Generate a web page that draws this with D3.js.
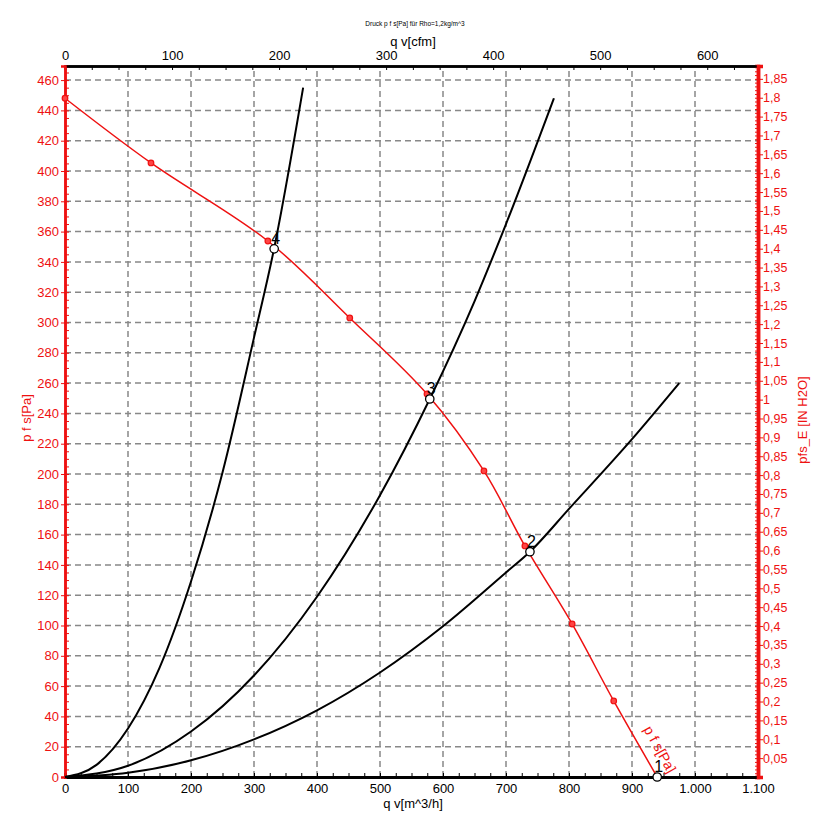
<!DOCTYPE html>
<html>
<head>
<meta charset="utf-8">
<script src="https://cdn.jsdelivr.net/npm/d3@7"></script>
<style>
  body { margin: 0; background: #fff; }
  text { font-family: "Liberation Sans", Arial, sans-serif; }
</style>
</head>
<body>
<div id="viz"></div>
<script>
// fan curve p f s [Pa] over q v [m^3/h]
const fanQ = [0, 136.5, 322, 452, 574.6, 665, 730, 805, 871, 940];
const fanP = [448, 405.3, 353.8, 303, 252.8, 202, 152.5, 101, 50.2, 0];

// system curves
const sys1Q = [0, 50, 100, 150, 200, 250, 300, 332, 378];
const sys1P = [0, 8, 32, 72, 129, 201, 290, 349, 455];
const sys2Q = [0, 100, 200, 300, 400, 500, 579, 650, 700, 776];
const sys2P = [0, 7.4, 30, 67, 119, 186, 249.5, 314, 365, 448];
const sys3Q = [0, 100, 200, 300, 400, 500, 600, 700, 738, 800, 900, 975];
const sys3P = [0, 2.8, 11, 24.8, 44, 69, 99.5, 135, 148.7, 177, 223, 260];

// operating points
const opNames = ["4", "3", "2", "1"];
const opQ = [332, 579, 738, 940];
const opP = [348.6, 249.5, 148.7, 0];

const xTicks = d3.range(0, 1101, 100);
const yTicks = d3.range(0, 461, 20);
const cfmTicks = d3.range(0, 601, 100);
const inTicks = d3.range(1, 38).map(i => i * 0.05);

const width = 819, height = 838;
const red = "#ee1111";
const PA_PER_IN = 249.09, M3H_PER_CFM = 1.699;

const x = d3.scaleLinear().domain([0, 1100]).range([65, 758]);
const y = d3.scaleLinear().domain([0, 469.3]).range([777, 66]);
const xTop = d3.scaleLinear().domain([0, 1100 / M3H_PER_CFM]).range([65, 758]);
const yRight = d3.scaleLinear().domain([0, 469.3 / PA_PER_IN]).range([777, 66]);

const svg = d3.select("#viz").append("svg")
  .attr("width", width)
  .attr("height", height);

// grid
const grid = svg.append("g")
  .attr("stroke", "#888")
  .attr("stroke-width", 1.5)
  .attr("stroke-dasharray", "6,4");
grid.selectAll(".vg").data(xTicks.slice(1, -1)).enter().append("line")
  .attr("x1", d => x(d)).attr("x2", d => x(d))
  .attr("y1", y.range()[0]).attr("y2", y.range()[1]);
grid.selectAll(".hg").data(yTicks.slice(1)).enter().append("line")
  .attr("x1", x.range()[0]).attr("x2", x.range()[1])
  .attr("y1", d => y(d)).attr("y2", d => y(d));

// axes
const fmtX = d3.formatLocale({ decimal: ",", thousands: ".", grouping: [3] }).format(",");
const fmtIn = v => d3.format(".2~f")(v).replace(".", ",");

function styleAxis(g, color, w) {
  g.select(".domain").attr("stroke", color).attr("stroke-width", w);
  g.selectAll(".tick line").attr("stroke", color);
  g.selectAll(".tick text").attr("fill", color);
  g.attr("font-family", null);
}

// minor ticks
svg.append("g").attr("transform", "translate(0,777)")
  .call(d3.axisBottom(x).tickValues(d3.range(0, 1101, 25)).tickSize(-4).tickFormat(""))
  .call(g => styleAxis(g, "#000", 3));
svg.append("g").attr("transform", "translate(0,66)")
  .call(d3.axisTop(xTop).tickValues(d3.range(0, 626, 25)).tickSize(-4).tickFormat(""))
  .call(g => styleAxis(g, "#000", 2.5));
svg.append("g").attr("transform", "translate(65,0)")
  .call(d3.axisLeft(y).tickValues(d3.range(0, 466, 5)).tickSize(-4).tickFormat(""))
  .call(g => styleAxis(g, red, 2.5));
svg.append("g").attr("transform", "translate(758,0)")
  .call(d3.axisRight(yRight).tickValues(d3.range(0, 188).map(i => i * 0.01)).tickSize(-3).tickFormat(""))
  .call(g => styleAxis(g, red, 3.5));

// major ticks with labels
svg.append("g").attr("transform", "translate(0,777)")
  .call(d3.axisBottom(x).tickValues(xTicks).tickSize(0).tickPadding(7).tickFormat(fmtX))
  .call(g => styleAxis(g, "#000", 3))
  .attr("font-size", 13);
svg.append("g").attr("transform", "translate(0,66)")
  .call(d3.axisTop(xTop).tickValues(cfmTicks).tickSize(0).tickPadding(6))
  .call(g => styleAxis(g, "#000", 2.5))
  .attr("font-size", 13);
svg.append("g").attr("transform", "translate(65,0)")
  .call(d3.axisLeft(y).tickValues(yTicks).tickSize(4).tickPadding(2))
  .call(g => styleAxis(g, red, 2.5))
  .attr("font-size", 13);
svg.append("g").attr("transform", "translate(758,0)")
  .call(d3.axisRight(yRight).tickValues(inTicks).tickSize(5).tickPadding(0).tickFormat(fmtIn))
  .call(g => styleAxis(g, red, 3.5))
  .attr("font-size", 12.5);

// titles
svg.append("text").attr("x", 415).attr("y", 26).attr("text-anchor", "middle")
  .attr("font-size", 6.5).text("Druck p f s[Pa] für Rho=1,2kg/m^3");
svg.append("text").attr("x", 413).attr("y", 46).attr("text-anchor", "middle")
  .attr("font-size", 13).text("q v[cfm]");
svg.append("text").attr("x", 413).attr("y", 808).attr("text-anchor", "middle")
  .attr("font-size", 13).text("q v[m^3/h]");
svg.append("text").attr("transform", "translate(31,418) rotate(-90)")
  .attr("text-anchor", "middle").attr("font-size", 13).attr("fill", red).text("p f s[Pa]");
svg.append("text").attr("transform", "translate(807,420) rotate(-90)")
  .attr("text-anchor", "middle").attr("font-size", 13).attr("fill", red).text("pfs_E [IN H2O]");

// system curves
const line = d3.line().x(d => x(d[0])).y(d => y(d[1])).curve(d3.curveMonotoneX);
[[sys1Q, sys1P], [sys2Q, sys2P], [sys3Q, sys3P]].forEach(([qs, ps]) => {
  svg.append("path")
    .datum(qs.map((q, i) => [q, ps[i]]))
    .attr("d", line)
    .attr("fill", "none")
    .attr("stroke", "#000")
    .attr("stroke-width", 2);
});

// fan curve
const fanData = fanQ.map((q, i) => [q, fanP[i]]);
svg.append("path")
  .datum(fanData)
  .attr("d", line.curve(d3.curveCatmullRom.alpha(0.5)))
  .attr("fill", "none")
  .attr("stroke", red)
  .attr("stroke-width", 1.5);
svg.selectAll(".fandot").data(fanData.slice(0, -1)).enter().append("circle")
  .attr("cx", d => x(d[0])).attr("cy", d => y(d[1])).attr("r", 2.8)
  .attr("fill", "#f44").attr("stroke", red).attr("stroke-width", 1.2);

// curve label
const a = fanData[7], b = fanData[9];
const ang = Math.atan2(y(b[1]) - y(a[1]), x(b[0]) - x(a[0])) * 180 / Math.PI;
svg.append("text")
  .attr("transform", `translate(${x(875) + 27},${y(46) + 22}) rotate(${ang})`)
  .attr("font-size", 14).attr("fill", red).text("p f s[Pa]");

// operating points
const ops = opNames.map((n, i) => ({ n, q: opQ[i], p: opP[i] }));
svg.selectAll(".opl").data(ops).enter().append("text")
  .attr("x", d => x(d.q) - 3).attr("y", d => y(d.p) - 5)
  .attr("font-size", 16).text(d => d.n);
svg.selectAll(".op").data(ops).enter().append("circle")
  .attr("cx", d => x(d.q)).attr("cy", d => y(d.p)).attr("r", 4.2)
  .attr("fill", "#fff").attr("stroke", "#000").attr("stroke-width", 1.3);
</script>
</body>
</html>
